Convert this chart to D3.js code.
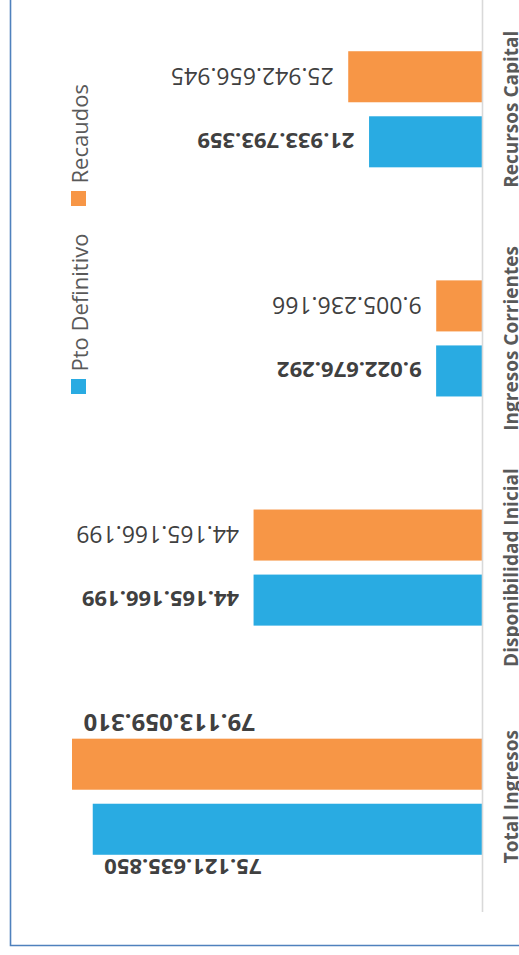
<!DOCTYPE html>
<html>
<head>
<meta charset="utf-8">
<script src="https://cdn.jsdelivr.net/npm/d3@7"></script>
<style>
    body { margin: 0; background: #fff; }
    svg { display: block; font-family: "Open Sans", sans-serif; }
</style>
</head>
<body>
<script>
// chart data (top to bottom as drawn)
var categories = ["Recursos Capital", "Ingresos Corrientes", "Disponibilidad Inicial", "Total Ingresos"];
var seriesNames = ["Recaudos", "Pto Definitivo"];
var recaudos = [25942656945, 9005236166, 44165166199, 79113059310];
var ptoDefinitivo = [21933793359, 9022676292, 44165166199, 75121635850];
var legendOrder = ["Pto Definitivo", "Recaudos"];

var width = 519, height = 955;
var colors = { "Recaudos": "#f79646", "Pto Definitivo": "#29abe2" };
var labelStyle = {
    "Recaudos": { weight: "normal", size: 23 },
    "Pto Definitivo": { weight: "bold", size: 22 }
};

var fmt = d3.formatLocale({ decimal: ",", thousands: ".", grouping: [3], currency: ["$", ""] }).format(",d");

var svg = d3.select("body").append("svg")
    .attr("width", width)
    .attr("height", height);

// frame
svg.append("path")
    .attr("d", "M10.5,0V945.5H" + width)
    .attr("fill", "none")
    .attr("stroke", "#4f81bd")
    .attr("stroke-width", 1.6);

var y0 = d3.scaleBand().domain(categories).range([-5.3, 911.3]);
var y1 = d3.scaleBand().domain(seriesNames).range([0, y0.bandwidth()])
    .paddingInner(0.2154).paddingOuter(0.869);
var x = d3.scaleLinear().domain([0, 80e9]).range([483, 67.4]);

var rows = categories.map(function (c, i) {
    return { cat: c, values: [
        { s: "Recaudos", v: recaudos[i] },
        { s: "Pto Definitivo", v: ptoDefinitivo[i] }
    ] };
});

var groups = svg.selectAll("g.cat").data(rows).enter().append("g")
    .attr("class", "cat")
    .attr("transform", function (d) { return "translate(0," + y0(d.cat) + ")"; });

groups.selectAll("rect").data(function (d) { return d.values; }).enter().append("rect")
    .attr("x", function (d) { return x(d.v); })
    .attr("width", function (d) { return x(0) - x(d.v); })
    .attr("y", function (d) { return y1(d.s); })
    .attr("height", y1.bandwidth())
    .attr("fill", function (d) { return colors[d.s]; });

// value labels, upside down
groups.selectAll("text.val").data(function (d) { return d.values; }).enter().append("text")
    .attr("class", "val")
    .text(function (d) { return fmt(d.v); })
    .attr("fill", "#404040")
    .attr("font-weight", function (d) { return labelStyle[d.s].weight; })
    .attr("font-size", function (d) { return labelStyle[d.s].size; })
    .attr("dominant-baseline", "central")
    .each(function (d) {
        var t = d3.select(this);
        var w = this.getComputedTextLength();
        var cy = y1(d.s) + y1.bandwidth() / 2;
        var ex = x(d.v);
        if (ex - 14 - w < x.range()[1]) {
            // no room past the bar end: put it beside the bar
            t.attr("font-weight", "bold");
            if (d.s === "Recaudos") {
                t.attr("font-size", 24);
                cy -= 40.5;
            } else {
                cy += 39;
            }
            t.attr("text-anchor", "end")
                .attr("transform", "translate(" + (ex + 11.5) + "," + cy + ") rotate(180)");
        } else {
            t.attr("text-anchor", "start")
                .attr("transform", "translate(" + (ex - 14.5) + "," + cy + ") rotate(180)");
        }
    });

// category axis
svg.append("line")
    .attr("x1", 482.5).attr("x2", 482.5)
    .attr("y1", y0.range()[0]).attr("y2", y0.range()[1] + 0.7)
    .attr("stroke", "#d9d9d9")
    .attr("stroke-width", 1.6);

svg.selectAll("text.cat").data(categories).enter().append("text")
    .attr("class", "cat")
    .attr("transform", function (d) {
        return "translate(518," + (y0(d) + y0.bandwidth() / 2) + ") rotate(-90)";
    })
    .attr("text-anchor", "middle")
    .attr("font-weight", "bold")
    .attr("font-size", 19)
    .attr("fill", "#595959")
    .text(function (d) { return d; });

// legend
var legendPos = { "Pto Definitivo": 394, "Recaudos": 206 };
var legend = svg.selectAll("g.legend").data(legendOrder).enter().append("g")
    .attr("class", "legend")
    .attr("transform", function (d) { return "translate(71," + legendPos[d] + ")"; });

legend.append("rect")
    .attr("x", 0).attr("y", -15)
    .attr("width", 15).attr("height", 15)
    .attr("fill", function (d) { return colors[d]; });

legend.append("text")
    .attr("transform", "translate(16.5,-22.5) rotate(-90)")
    .attr("font-size", 22)
    .attr("fill", "#595959")
    .text(function (d) { return d; });
</script>
</body>
</html>
